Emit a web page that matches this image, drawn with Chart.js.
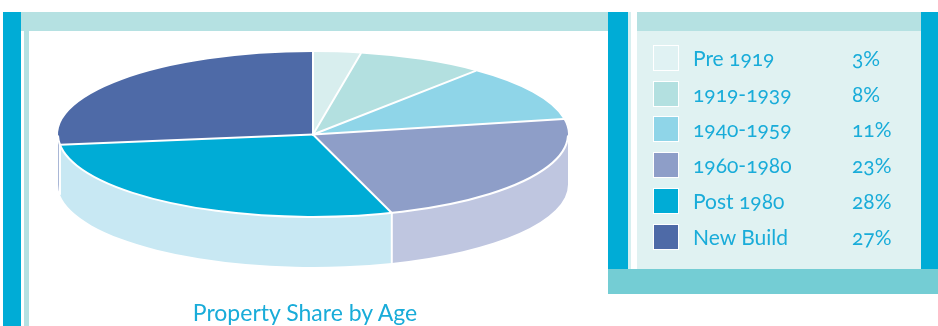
<!DOCTYPE html>
<html>
<head>
<meta charset="utf-8">
<script src="https://cdn.jsdelivr.net/npm/chart.js@4.4.0/dist/chart.umd.min.js"></script>
<style>
html,body{margin:0;padding:0;width:938px;height:326px;overflow:hidden;background:#fff;}
.d{position:absolute;}
#c{position:absolute;left:0;top:0;z-index:1;}
#legend{position:absolute;left:0;top:0;z-index:2;}
.sw{position:absolute;left:653px;width:26px;height:26px;box-sizing:border-box;border:1.5px solid #fff;}
.lb,.pc{position:absolute;font-family:Lato,"Open Sans",sans-serif;font-size:21px;line-height:26px;color:#19acd9;white-space:nowrap;font-feature-settings:"onum" 1;font-variant-numeric:oldstyle-nums;}
.lb{left:693px;}
.pc{left:852px;}
#title{position:absolute;left:105px;width:400px;top:298px;text-align:center;font-family:Lato,"Open Sans",sans-serif;font-size:23px;line-height:28px;color:#19acd9;z-index:2;white-space:nowrap;}
</style>
</head>
<body>
<!-- left frame -->
<div class="d" style="left:3px;top:12px;width:18px;height:314px;background:#00acd6"></div>
<div class="d" style="left:21px;top:12px;width:587px;height:19px;background:#b5e1e2"></div>
<div class="d" style="left:24px;top:31px;width:5px;height:295px;background:#b5e1e2"></div>
<!-- right legend panel -->
<div class="d" style="left:608px;top:12px;width:20px;height:257px;background:#00acd6"></div>
<div class="d" style="left:628px;top:12px;width:3px;height:257px;background:#d6eff0"></div>
<div class="d" style="left:637px;top:12px;width:284px;height:19px;background:#b5e1e2"></div>
<div class="d" style="left:637px;top:31px;width:284px;height:238px;background:#e0f2f2"></div>
<div class="d" style="left:921px;top:12px;width:17px;height:257px;background:#00acd6"></div>
<div class="d" style="left:608px;top:269px;width:330px;height:25px;background:#74cdd4"></div>

<canvas id="c" width="938" height="326"></canvas>
<div id="legend"></div>
<div id="title"></div>

<script>
// ---- data ----
const categories = ['Pre 1919', '1919-1939', '1940-1959', '1960-1980', 'Post 1980', 'New Build'];
const shares = [3, 8, 11, 23, 28, 27];
const shareLabels = ['3%', '8%', '11%', '23%', '28%', '27%'];
const chartTitle = 'Property Share by Age';

// ---- styles ----
const topColors = ['#d8eeee', '#b3e0e0', '#8fd5e8', '#8e9ec8', '#00acd6', '#4e6aa7'];
const sideColors = ['#e9f5f5', '#d6eeef', '#c4eaf3', '#bfc6e0', '#c8e8f3', '#a9b7d6'];
const swatchColors = ['#e0f2f3', '#b3e0e0', '#8fd5e8', '#8e9ec8', '#00acd6', '#4e6aa7'];
const PIE = {cx: 313, cy: 134.5, rx: 255, ry: 82.5, depth: 50};

const pie3d = {
  id: 'pie3d',
  beforeDatasetsDraw(chart) {
    const ctx = chart.ctx;
    const meta = chart.getDatasetMeta(0);
    const {cx, cy, rx, ry, depth} = PIE;
    meta.data.forEach((arc, i) => {
      const s = Math.max(arc.startAngle, 0), e = Math.min(arc.endAngle, Math.PI);
      if (e <= s) return;
      ctx.beginPath();
      ctx.ellipse(cx, cy, rx, ry, 0, s, e, false);
      ctx.lineTo(cx + rx * Math.cos(e), cy + depth + ry * Math.sin(e));
      ctx.ellipse(cx, cy + depth, rx, ry, 0, e, s, true);
      ctx.closePath();
      ctx.fillStyle = sideColors[i];
      ctx.fill();
    });
    ctx.save();
    ctx.strokeStyle = '#fff';
    ctx.lineWidth = 2;
    meta.data.forEach(arc => {
      const a = arc.startAngle;
      if (a > 0 && a < Math.PI) {
        const x = cx + rx * Math.cos(a), y = cy + ry * Math.sin(a);
        ctx.beginPath(); ctx.moveTo(x, y); ctx.lineTo(x, y + depth); ctx.stroke();
      }
    });
    ctx.restore();
    const a0 = meta.data[0];
    ctx.save();
    ctx.translate(cx, cy);
    ctx.scale(rx / a0.outerRadius, ry / a0.outerRadius);
    ctx.translate(-a0.x, -a0.y);
  },
  afterDatasetsDraw(chart) {
    const ctx = chart.ctx;
    ctx.restore();
    const meta = chart.getDatasetMeta(0);
    const {cx, cy, rx, ry} = PIE;
    ctx.save();
    ctx.strokeStyle = '#fff';
    ctx.lineWidth = 2;
    ctx.lineCap = 'round';
    meta.data.forEach(arc => {
      const a = arc.startAngle;
      ctx.beginPath();
      ctx.moveTo(cx, cy);
      ctx.lineTo(cx + rx * Math.cos(a), cy + ry * Math.sin(a));
      ctx.stroke();
    });
    ctx.beginPath();
    ctx.ellipse(cx, cy, rx, ry, 0, 0.02, Math.PI - 0.02, false);
    ctx.stroke();
    ctx.restore();
  }
};

new Chart(document.getElementById('c').getContext('2d'), {
  type: 'pie',
  data: {
    labels: categories,
    datasets: [{data: shares, backgroundColor: topColors, borderWidth: 0, clip: false, hoverOffset: 0}]
  },
  options: {
    responsive: false,
    animation: false,
    events: [],
    layout: {padding: {left: PIE.cx - 163, right: 938 - (PIE.cx + 163), top: 0, bottom: 0}},
    plugins: {legend: {display: false}, tooltip: {enabled: false}, title: {display: false}}
  },
  plugins: [pie3d]
});

// ---- legend ----
const legend = document.getElementById('legend');
categories.forEach((c, i) => {
  const center = 58 + i * 35.7;
  const sw = document.createElement('div');
  sw.className = 'sw';
  sw.style.top = (center - 13) + 'px';
  sw.style.background = swatchColors[i];
  legend.appendChild(sw);
  const lb = document.createElement('div');
  lb.className = 'lb';
  lb.style.top = (center - 13) + 'px';
  lb.textContent = c;
  legend.appendChild(lb);
  const pc = document.createElement('div');
  pc.className = 'pc';
  pc.style.top = (center - 13) + 'px';
  pc.textContent = shareLabels[i];
  legend.appendChild(pc);
});
document.getElementById('title').textContent = chartTitle;
</script>
</body>
</html>
